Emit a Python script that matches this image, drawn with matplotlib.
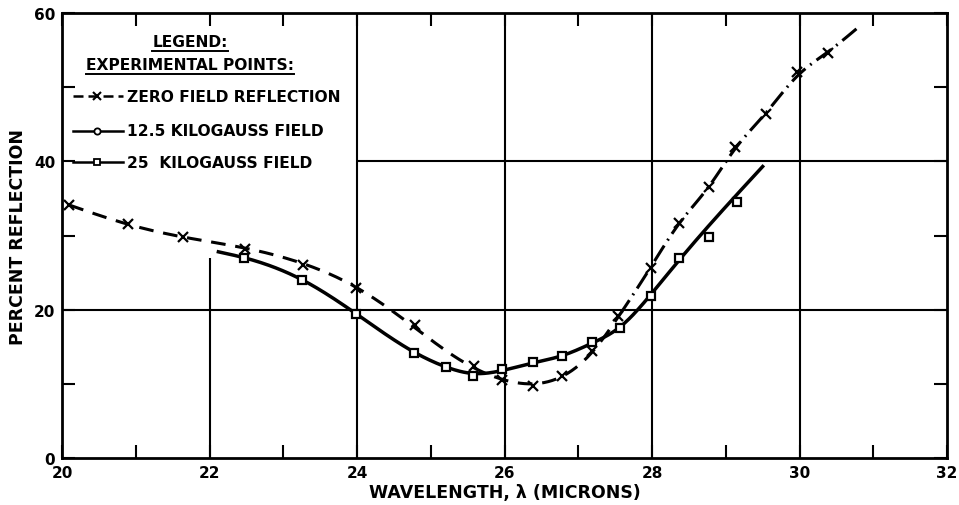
import matplotlib
matplotlib.use("Agg")
import matplotlib.pyplot as plt
import numpy as np

# measured points, wavelength in microns / percent reflection
zero_x = [20.1, 20.9, 21.64, 22.48, 23.27, 23.99, 24.78, 25.58, 25.97, 26.38,
          26.78, 27.19, 27.54, 27.98, 28.36, 28.77, 29.12, 29.55, 29.96, 30.39]
zero_y = [34.1, 31.5, 29.8, 28.2, 26.0, 22.9, 17.9, 12.4, 10.5, 9.7,
          11.1, 14.4, 19.1, 25.6, 31.7, 36.5, 42.0, 46.4, 52.0, 54.6]

kg25_x = [22.47, 23.26, 23.98, 24.77, 25.2, 25.57, 25.97, 26.38, 26.78, 27.19,
          27.57, 27.98, 28.37, 28.77, 29.15]
kg25_y = [27.0, 24.0, 19.4, 14.2, 12.3, 11.1, 12.0, 12.9, 13.8, 15.6,
          17.5, 21.9, 26.9, 29.8, 34.5]

# faired curves drawn through the points
zero_fit_x = [20.1, 20.9, 21.64, 22.48, 23.27, 23.99, 24.78, 25.4, 25.97, 26.38,
              26.78, 27.19, 27.54, 27.98, 28.36, 28.77, 29.12, 29.55, 29.96, 30.39, 30.8]
zero_fit_y = [34.1, 31.5, 29.8, 28.3, 26.2, 23.0, 17.6, 13.2, 10.6, 10.0,
              11.0, 14.3, 19.0, 25.7, 31.5, 36.6, 41.6, 46.6, 51.4, 54.8, 58.1]
zero_split = 27.54  # dashed up to here, dash-dot beyond

kg25_fit_x = [22.12, 22.47, 23.26, 23.98, 24.77, 25.2, 25.57, 25.97, 26.38, 26.78,
              27.19, 27.57, 27.98, 28.37, 29.5]
kg25_fit_y = [27.8, 27.0, 24.0, 19.5, 14.3, 12.3, 11.4, 11.8, 12.8, 13.8,
              15.5, 17.7, 22.0, 26.7, 39.3]

legend_labels = ["ZERO FIELD REFLECTION", "12.5 KILOGAUSS FIELD", "25  KILOGAUSS FIELD"]

x_ticks = [20, 22, 24, 26, 28, 30, 32]
y_ticks = [0, 20, 40, 60]


def spline(xs, ys, n=400):
    # natural cubic spline y(x)
    x = np.asarray(xs, float)
    y = np.asarray(ys, float)
    m = len(x)
    h = np.diff(x)
    A = np.zeros((m, m))
    r = np.zeros(m)
    A[0, 0] = A[-1, -1] = 1
    for i in range(1, m - 1):
        A[i, i - 1] = h[i - 1]
        A[i, i] = 2 * (h[i - 1] + h[i])
        A[i, i + 1] = h[i]
        r[i] = 6 * ((y[i + 1] - y[i]) / h[i] - (y[i] - y[i - 1]) / h[i - 1])
    M = np.linalg.solve(A, r)
    xx = np.linspace(x[0], x[-1], n)
    j = np.clip(np.searchsorted(x, xx) - 1, 0, m - 2)
    a = x[j + 1] - xx
    b = xx - x[j]
    hj = h[j]
    yy = (M[j] * a ** 3 / (6 * hj) + M[j + 1] * b ** 3 / (6 * hj)
          + (y[j] / hj - M[j] * hj / 6) * a + (y[j + 1] / hj - M[j + 1] * hj / 6) * b)
    return xx, yy


plt.rcParams['font.family'] = ['DejaVu Sans']
fig = plt.figure(figsize=(9.59, 5.06), dpi=100)
ax = fig.add_axes([0.0647, 0.0929, 0.9228, 0.8794])
ax.set_xlim(20, 32)
ax.set_ylim(0, 60)

# grid, partly hidden behind the legend block
ax.vlines(22, 0, 27.0, color="black", lw=1.5, zorder=1)
for gx in [24, 26, 28, 30]:
    ax.vlines(gx, 0, 60, color="black", lw=1.5, zorder=1)
ax.hlines(20, 20, 32, color="black", lw=1.5, zorder=1)
ax.hlines(40, 24, 32, color="black", lw=1.5, zorder=1)

lw = 2.2
cx, cy = spline(zero_fit_x, zero_fit_y)
k = np.searchsorted(cx, zero_split)
ax.plot(cx[:k + 1], cy[:k + 1], color="black", lw=lw, dashes=(4.8, 3.2),
        solid_capstyle="butt", zorder=3)
ax.plot(cx[k:], cy[k:], color="black", lw=lw, dashes=(6, 2.0, 0.6, 2.0), zorder=3)
ax.plot(zero_x, zero_y, ls="none", marker="x", ms=7.5, mew=1.6, color="black", zorder=4)

sx, sy = spline(kg25_fit_x, kg25_fit_y)
ax.plot(sx, sy, color="black", lw=lw + 0.3, zorder=3)
ax.plot(kg25_x, kg25_y, ls="none", marker="s", ms=5.8, mew=1.6, mfc="white",
        mec="black", zorder=4)

ax.set_xticks(x_ticks)
ax.set_yticks(y_ticks)
ax.set_xticks(range(21, 32), minor=True)
ax.set_yticks([10, 30, 50], minor=True)
ax.tick_params(which="both", direction="in", top=True, right=True,
               length=9.5, width=1.5, labelsize=11)
ax.tick_params(axis="both", which="major", pad=5)
for lab in ax.get_xticklabels() + ax.get_yticklabels():
    lab.set_fontweight("bold")
for s in ax.spines.values():
    s.set_linewidth(2.0)

ax.set_xlabel("WAVELENGTH, \u03bb (MICRONS)", fontsize=12.5, fontweight="bold", labelpad=2)
ax.set_ylabel("PERCENT REFLECTION", fontsize=12.5, fontweight="bold", labelpad=5)

# legend block
tr = ax.transAxes
t1 = ax.text(0.1446, 0.937, "LEGEND:", transform=tr, ha="center", va="center",
             fontsize=11.2, fontweight="bold")
t2 = ax.text(0.1446, 0.885, "EXPERIMENTAL POINTS:", transform=tr, ha="center",
             va="center", fontsize=11.2, fontweight="bold")
rows = [0.8135, 0.735, 0.665]
styles = [dict(marker="x", ms=6, mew=1.5, dashes=(4, 2)),
          dict(marker="o", ms=4.5, mew=1.3, mfc="white"),
          dict(marker="s", ms=5, mew=1.3, mfc="white")]
for ry, label, st in zip(rows, legend_labels, styles):
    ax.plot([0.0124, 0.0395, 0.069], [ry, ry, ry], transform=tr, color="black",
            lw=1.8, markevery=[1], clip_on=False, zorder=5, **st)
    ax.text(0.0734, ry, label, transform=tr, ha="left", va="center",
            fontsize=11.2, fontweight="bold")

fig.canvas.draw()
inv = ax.transAxes.inverted()
for t in (t1, t2):
    bb = t.get_window_extent()
    (x0, y0), (x1, _) = inv.transform([[bb.x0, bb.y0], [bb.x1, bb.y1]])
    ax.plot([x0, x1], [y0 - 0.006, y0 - 0.006], transform=tr, color="black", lw=1.4)

fig.savefig("out.png", dpi=100)
